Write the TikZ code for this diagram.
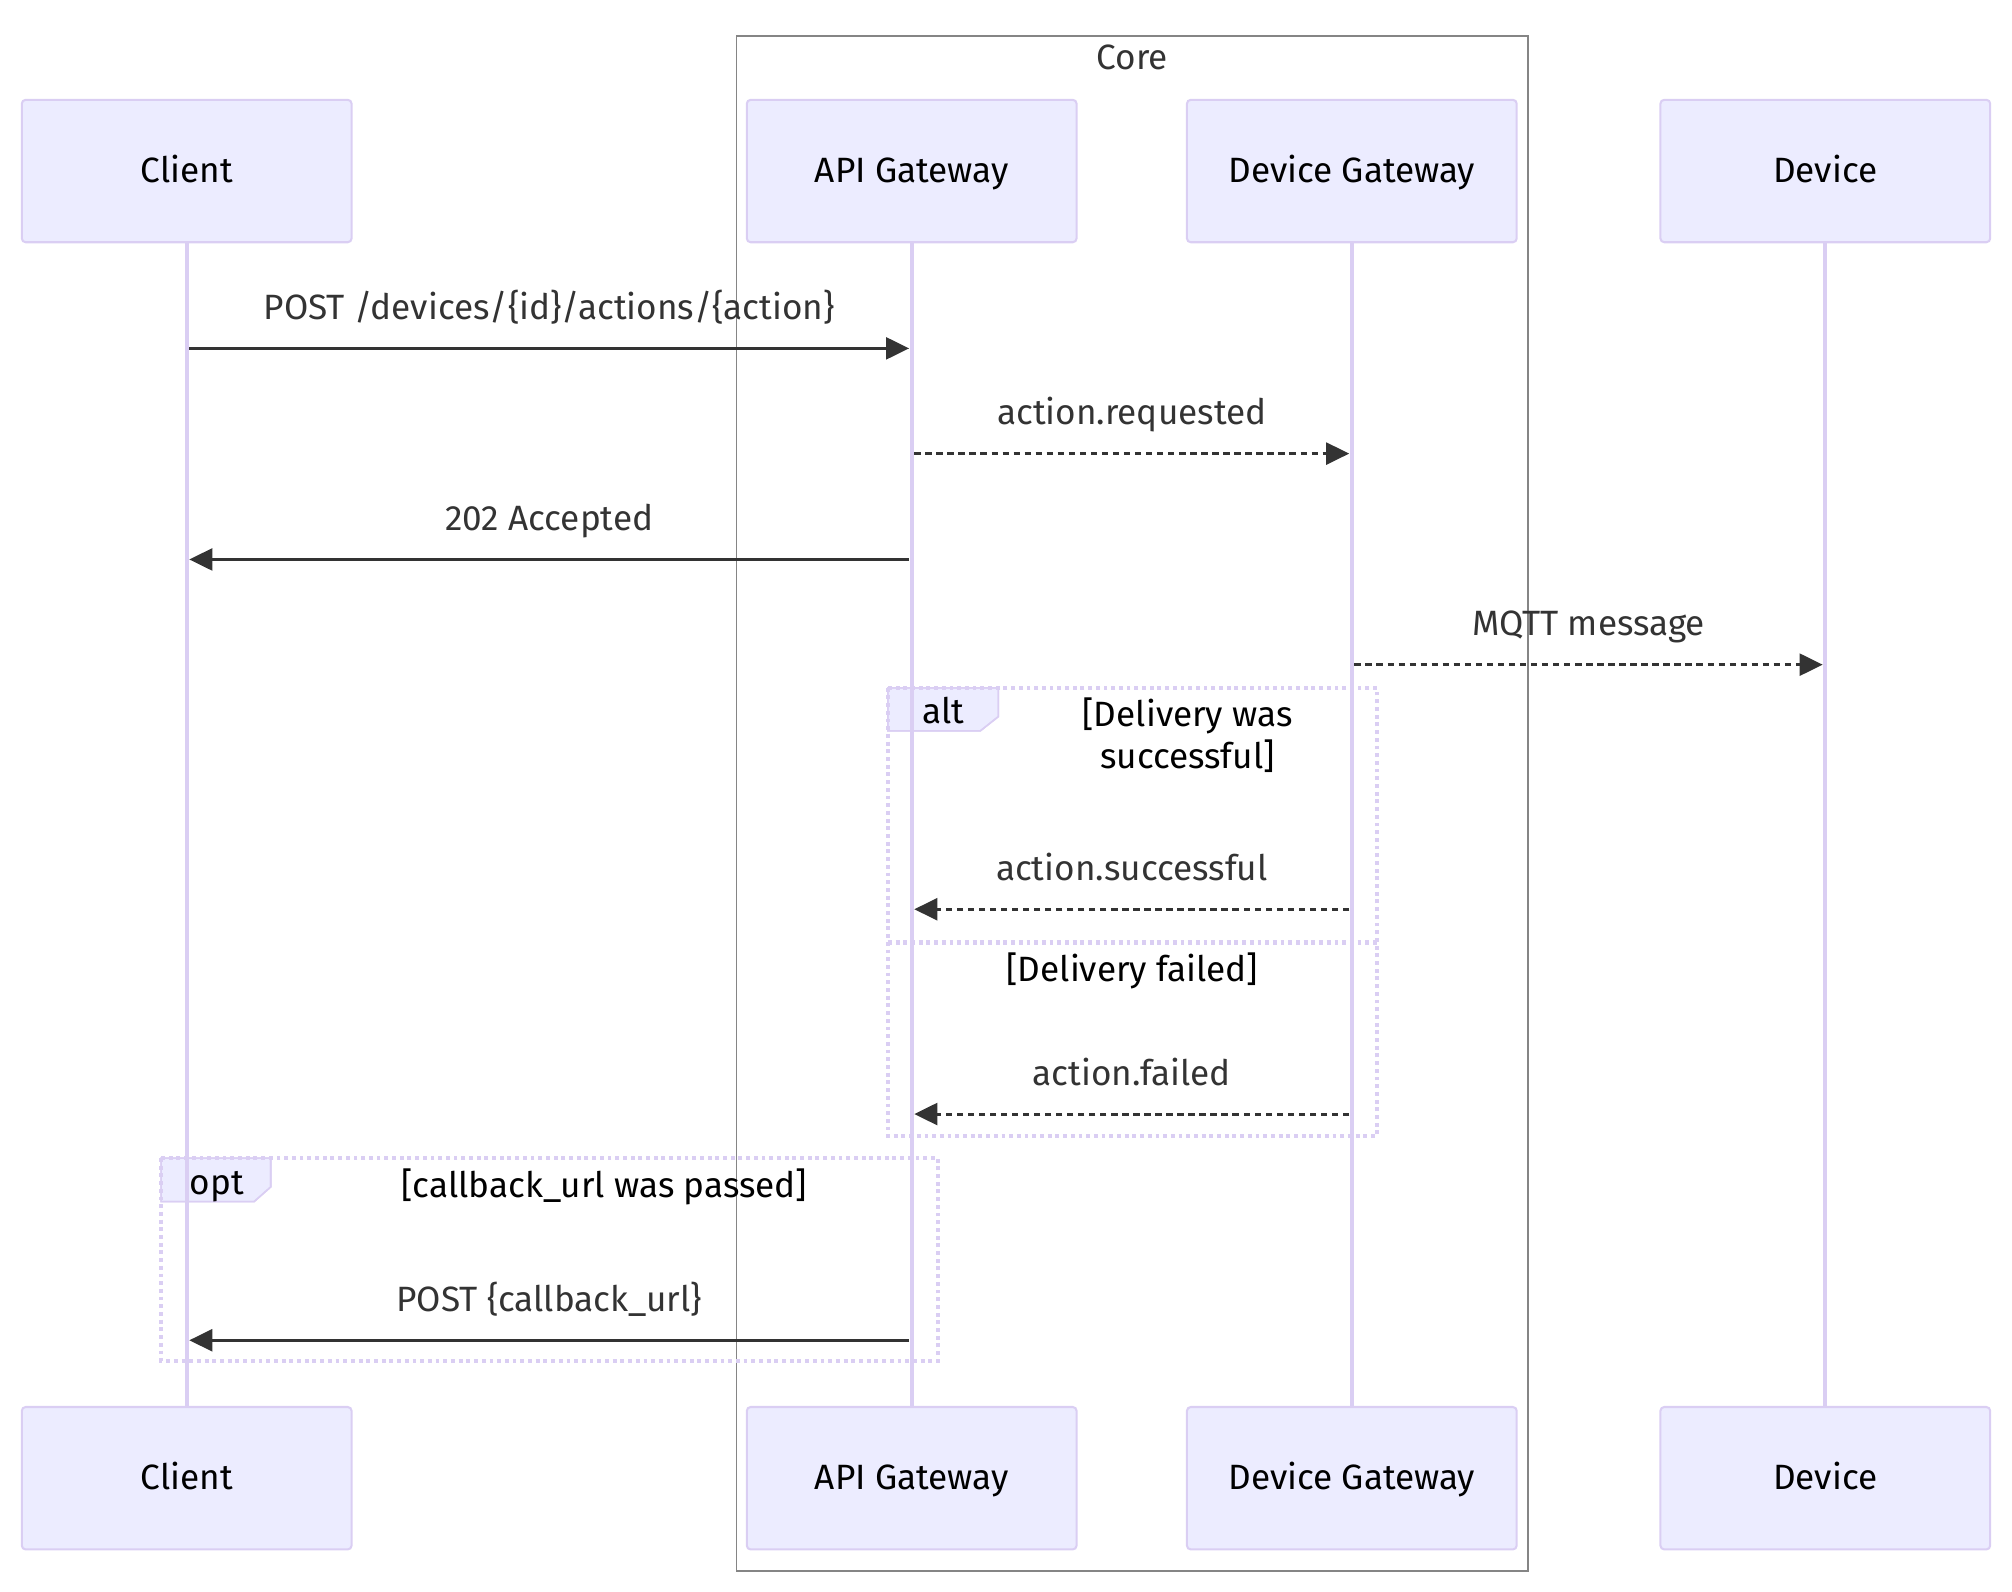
\documentclass[tikz,border=0pt]{standalone}
\usepackage{fontspec}
\setmainfont{Fira Sans}
\usetikzlibrary{arrows.meta}

\definecolor{actfill}{HTML}{ECECFF}
\definecolor{actline}{HTML}{DACEF3}
\definecolor{msgtext}{HTML}{333333}
\definecolor{coregray}{HTML}{858585}
\newcommand{\seqfont}{\fontsize{13.7}{16.2}\selectfont}

\tikzset{
  actor/.style={draw=actline, fill=actfill, line width=0.8pt, rounded corners=1.5pt,
    minimum width=128.5pt, minimum height=55.5pt, text height=10pt, text depth=1pt,
    font=\seqfont, text=black},
  life/.style={actline, line width=1.6pt},
  msg/.style={msgtext, line width=1.2pt, -{Triangle[length=9pt,width=8.5pt]},
    shorten <=1pt, shorten >=1pt},
  msgdash/.style={msg, dash pattern=on 2.5pt off 1.8pt},
  msglbl/.style={anchor=base, yshift=11.25pt, text=msgtext, font=\seqfont},
  loopbox/.style={actline, line width=1.6pt, dash pattern=on 1.5pt off 1.5pt},
  looptab/.style={draw=actline, fill=actfill, line width=0.6pt},
  looptxt/.style={anchor=base, font=\seqfont, text=black, align=center},
}

\begin{document}
\begin{tikzpicture}[x=0.5pt,y=-0.5pt]
\useasboundingbox (0,0) rectangle (1568,1240.6);
\draw[coregray, line width=0.7pt] (574,28) rectangle (1191,1224.5);
\node[anchor=base, font=\seqfont, text=msgtext] (core) at (882.5,54) {Core};

\draw[looptab] (692,536) -- (778,536) -- (778,558.5) -- (764,569.6) -- (692,569.6) -- cycle;
\draw[looptab] (125.5,902.5) -- (211,902.5) -- (211,925) -- (198,936.5) -- (125.5,936.5) -- cycle;

\node[actor] (cliT) at (145.5,133.3) {Client};
\node[actor] (apiT) at (710.5,133.3) {API Gateway};
\node[actor] (dgwT) at (1053.5,133.3) {Device Gateway};
\node[actor] (devT) at (1422.5,133.3) {Device};
\node[actor] (cliB) at (145.5,1152) {Client};
\node[actor] (apiB) at (710.5,1152) {API Gateway};
\node[actor] (dgwB) at (1053.5,1152) {Device Gateway};
\node[actor] (devB) at (1422.5,1152) {Device};

\draw[life] (cliT) -- (cliB);
\draw[life] (apiT) -- (apiB);
\draw[life] (dgwT) -- (dgwB);
\draw[life] (devT) -- (devB);

\draw[loopbox] (692,536) rectangle (1073,885.5);
\draw[loopbox] (692,734.5) -- (1073,734.5);
\draw[loopbox] (125.5,902.5) rectangle (731,1060.5);
\draw[looptab, fill=none] (692,536) -- (778,536) -- (778,558.5) -- (764,569.6) -- (692,569.6) -- cycle;
\draw[looptab, fill=none] (125.5,902.5) -- (211,902.5) -- (211,925) -- (198,936.5) -- (125.5,936.5) -- cycle;
\node[looptxt] (altlbl) at (735,564) {alt};
\node[looptxt] (altcond) at (925.5,598.6) {[Delivery was\\successful]};
\node[looptxt] (elsecond) at (882.5,765) {[Delivery failed]};
\node[looptxt] (optlbl) at (169,931) {opt};
\node[looptxt] (optcond) at (471,933) {[callback\_url was passed]};

\draw[msg] (cliT |- 0,271.5) -- (apiT |- 0,271.5) node[msglbl, midway] (m1) {POST /devices/\{id\}/actions/\{action\}};
\draw[msgdash] (apiT |- 0,353.5) -- (dgwT |- 0,353.5) node[msglbl, midway] (m2) {action.requested};
\draw[msg] (apiT |- 0,436) -- (cliT |- 0,436) node[msglbl, midway] (m3) {202 Accepted};
\draw[msgdash] (dgwT |- 0,518) -- (devT |- 0,518) node[msglbl, midway] (m4) {MQTT message};
\draw[msgdash] (dgwT |- 0,708.6) -- (apiT |- 0,708.6) node[msglbl, midway] (m5) {action.successful};
\draw[msgdash] (dgwT |- 0,868.2) -- (apiT |- 0,868.2) node[msglbl, midway] (m6) {action.failed};
\draw[msg] (apiT |- 0,1044.5) -- (cliT |- 0,1044.5) node[msglbl, midway] (m7) {POST \{callback\_url\}};
\end{tikzpicture}
\end{document}
